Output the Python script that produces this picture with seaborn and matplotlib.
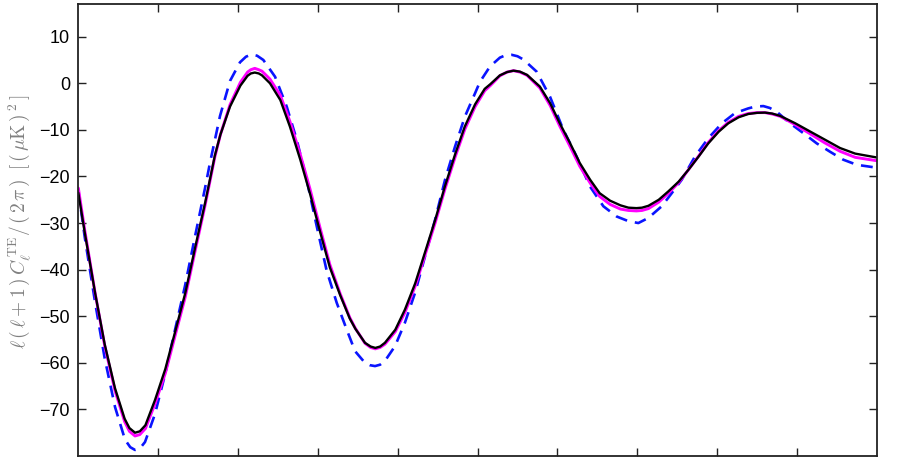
import numpy as np
import pandas as pd
import matplotlib
matplotlib.use("Agg")
import matplotlib.pyplot as plt
import seaborn as sns

# multipole-like x values (axis 0..1000, unlabeled)
ell_model = [0, 8, 21, 33, 46, 58, 64, 71, 77, 84, 96, 109, 121, 134, 146, 159, 171, 178, 190, 203,
             212, 216, 221, 226, 230, 240, 253, 265, 278, 290, 303, 315, 328, 340, 347, 359, 366,
             372, 378, 384, 397, 409, 422, 434, 447, 459, 472, 484, 497, 509, 516, 528, 537, 545,
             553, 562, 578, 591, 603, 616, 628, 641, 653, 666, 679, 689, 699, 706, 714, 727, 739,
             752, 764, 777, 789, 802, 814, 827, 839, 850, 860, 869, 879, 898, 917, 935, 954, 973, 999]
black_te = [-23.5, -32, -45, -56, -65.5, -72, -74, -75, -74.7, -73.4, -68, -61.3, -53.5, -45,
            -35.5, -25.5, -15.5, -11, -5, -0.5, 1.6, 2.1, 2.3, 2.1, 1.7, 0, -3.6, -9.3, -16.4,
            -23.6, -32, -39.5, -45.5, -50.5, -52.7, -55.7, -56.5, -56.8, -56.5, -55.7, -52.9,
            -48.6, -42.9, -36.4, -29.3, -22.2, -15.2, -9.3, -4.5, -1.2, -0.2, 1.7, 2.4, 2.7, 2.5,
            1.8, -0.7, -4.3, -8.6, -12.9, -17.1, -20.7, -23.6, -25.2, -26.2, -26.7, -26.8, -26.7,
            -26.3, -25, -23.2, -21.1, -18.6, -15.7, -12.9, -10.4, -8.6, -7.3, -6.6, -6.35, -6.3,
            -6.5, -7, -8.6, -10.4, -12.1, -13.9, -15.1, -15.9]
magenta_te = [-22.5, -31.5, -45, -56.3, -66, -72.6, -74.7, -75.7, -75.4, -74.1, -68.8, -62.2,
              -54.3, -45.8, -36.2, -26, -15.8, -11, -4.6, 0.2, 2.4, 2.9, 3.2, 2.9, 2.6, 0.9, -2.6,
              -8.2, -15.3, -22.6, -31.2, -38.9, -45.2, -50.3, -52.6, -55.8, -56.7, -57, -56.7,
              -56, -53.3, -49.2, -43.5, -37, -29.9, -22.8, -15.8, -9.9, -5, -1.6, -0.5, 1.6, 2.4,
              2.7, 2.4, 1.7, -1, -4.8, -9.2, -13.6, -17.8, -21.4, -24.3, -26, -27, -27.3, -27.4,
              -27.3, -26.9, -25.5, -23.6, -21.3, -18.6, -15.6, -12.7, -10.2, -8.4, -7.1, -6.5,
              -6.3, -6.3, -6.6, -7.1, -8.9, -10.9, -12.8, -14.6, -15.9, -16.6]

ell_blue = [0, 8, 21, 33, 46, 58.5, 65, 71, 77, 83.5, 96, 108.6, 121, 133.6, 146, 158.7, 165,
            177.5, 190, 202.5, 210, 217, 224, 231.7, 246.4, 261, 273.5, 286, 298.6, 311, 323.6,
            336.2, 346.6, 359, 365, 371.6, 378, 384, 396.7, 409, 421.7, 434.3, 446.8, 459.3,
            471.8, 484.3, 497, 503, 515.6, 528, 535, 542.8, 550, 557.4, 574, 590.8, 607.5, 624,
            641, 657.6, 674.3, 689, 701.4, 714, 730.7, 743.2, 755.8, 772.4, 789, 806, 822.5, 839,
            848, 858, 866, 874.7, 891.4, 908, 924.8, 941.5, 958, 975, 999]
blue_te = [-23, -33, -47, -59, -69.5, -76.5, -78.1, -78.7, -78.4, -77, -71, -62.5, -53, -43.5,
           -33, -22.5, -17, -7, 0.5, 4.5, 5.7, 6.2, 5.9, 5, 1.4, -5, -12.1, -20.7, -30.7, -40.2,
           -47.1, -52.9, -57.5, -60, -60.5, -60.7, -60.4, -59.6, -56.4, -51.4, -45, -37.1, -29.3,
           -20.7, -13.6, -7.1, -2.1, 0.3, 3.6, 5.5, 6.0, 6.1, 5.8, 5.1, 2.5, -2.9, -10, -15.7,
           -22.2, -26.4, -28.6, -29.6, -30, -28.9, -26.4, -23.6, -20.7, -15.7, -11.8, -8.6, -6.4,
           -5.4, -5.0, -4.9, -5.3, -6.1, -8.6, -10.7, -12.9, -14.7, -16.4, -17.5, -18.1]

y_ticks = [-70, -60, -50, -40, -30, -20, -10, 0, 10]
x_ticks = [100, 200, 300, 400, 500, 600, 700, 800, 900]

sns.set_theme(style="white")
plt.rcParams["font.family"] = ["Liberation Sans", "DejaVu Sans"]
plt.rcParams["mathtext.fontset"] = "cm"

df_black = pd.DataFrame({"ell": ell_model, "te": black_te})
df_mag = pd.DataFrame({"ell": ell_model, "te": magenta_te})
df_blue = pd.DataFrame({"ell": ell_blue, "te": blue_te})

fig = plt.figure(figsize=(9.15, 4.59), dpi=100)
ax = fig.add_axes([0.0856, 0.0065, 0.8726, 0.9847])

sns.lineplot(data=df_blue, x="ell", y="te", ax=ax, color="#0a14ff", lw=1.9,
             linestyle=(0, (4.5, 3.0)), sort=False)
sns.lineplot(data=df_mag, x="ell", y="te", ax=ax, color="#ff00ff", lw=2.1, sort=False)
sns.lineplot(data=df_black, x="ell", y="te", ax=ax, color="black", lw=1.7, sort=False)
for ln in ax.get_lines():
    ln.set_solid_joinstyle("round")
    ln.set_dash_joinstyle("round")

ax.set_xlim(0, 1000)
ax.set_ylim(-80, 17)
ax.set_yticks(y_ticks)
ax.set_yticklabels([f"\u2212{abs(v)}" if v < 0 else str(v) for v in y_ticks])
ax.set_xticks(x_ticks)
ax.set_xticklabels([])
ax.set_xlabel("")
ax.tick_params(axis="both", direction="in", length=6, width=1.0, color="#222222",
               top=True, right=True, bottom=True, left=True, labelsize=13, pad=6,
               labelcolor="black")
for s in ax.spines.values():
    s.set_color("#222222")
    s.set_linewidth(1.3)
    s.set_visible(True)

ax.set_ylabel(r"$\ell\,(\,\ell+1\,)\,C_\ell^{\,\mathrm{TE}}/\,(\,2\,\pi\,)\;\;[\,(\,\mu\mathrm{K}\,)^{\,2}\,]$",
              color="#808080", fontsize=14)
ax.yaxis.set_label_coords(-0.057, 0.519)

fig.savefig("out.png", dpi=100)
